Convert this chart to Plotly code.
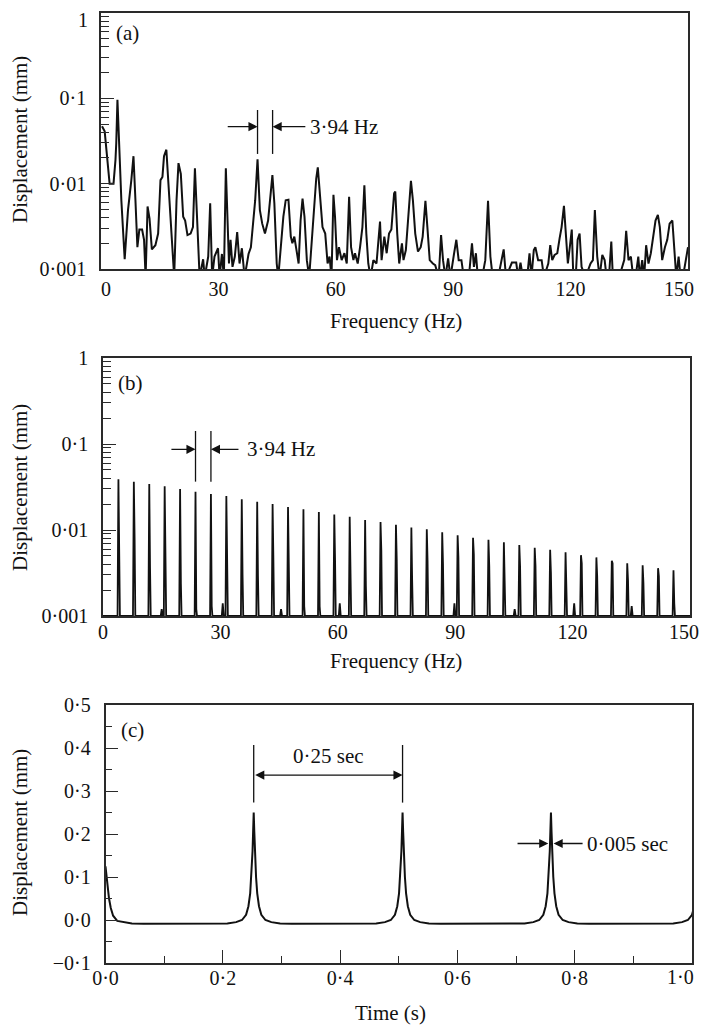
import math
import plotly.graph_objects as go

# ---------------- Panel (a): measured displacement spectrum ----------------
freq_a = [0.26, 0.94, 2.2, 3.2, 3.7, 3.9, 4.2, 4.6, 5.2, 6.05, 6.9, 7.75, 8.3, 8.8, 9.3, 9.8,
          10.5, 11.0, 11.4, 11.9, 12.4, 13.0, 13.9, 14.6, 15.2, 15.7, 16.1, 16.7, 17.1, 18.0,
          18.7, 19.3, 19.8, 20.4, 21.0, 21.5, 22.1, 22.9, 23.5, 24.0, 24.4, 25.2, 26.1, 26.5,
          27.4, 27.9, 28.4, 29.0, 29.9, 30.3, 30.9, 31.4, 31.9, 32.3, 32.7, 33.1, 33.6, 34.2,
          34.8, 35.4, 36.0, 36.7,
          37.7, 38.3, 38.9, 39.4, 40.0, 40.6, 41.2, 41.9, 42.7, 43.3, 43.8, 44.3, 44.9, 45.3,
          45.9, 46.6, 47.2, 47.9, 48.5, 48.9, 49.4, 49.9, 50.5, 51.0, 51.5, 52.0, 52.6, 53.2,
          53.9, 54.5, 55.0, 55.4, 56.0, 56.6, 57.3, 57.9, 58.4, 58.9, 59.4, 59.8, 60.3, 60.8,
          61.5, 62.2, 62.8, 63.4, 63.9, 64.5, 64.9, 65.6, 66.2, 66.8, 67.3, 67.8, 68.3, 68.9,
          69.6, 70.4, 71.3, 71.7, 72.4, 73.0, 73.6, 74.2, 74.9,
          75.2, 75.7, 76.2, 76.9, 77.3, 77.9, 78.6, 79.2, 79.7, 80.3, 81.0, 81.7, 82.2, 82.9,
          83.4, 84.0, 84.8, 85.4, 86.3, 86.9, 87.4, 88.0, 88.7, 89.3, 90.1, 90.8, 91.4, 92.1,
          92.7, 94.0, 94.8, 95.3, 95.8, 96.3, 97.4, 98.2, 98.9, 99.5, 100.1, 101.5, 102.9,
          103.5, 105.0, 106.1, 106.6, 107.2, 107.8, 108.9, 109.5, 110.0, 110.6, 111.0, 111.7,
          112.6, 113.2, 113.8, 114.3, 114.8, 115.3, 115.9, 116.6, 117.2, 117.7, 118.3, 118.7,
          119.3, 119.8, 120.3, 120.7, 121.3, 121.8, 122.3, 122.8, 123.8, 125.1, 125.7, 126.2,
          126.8, 127.4, 128.1, 128.7, 129.2, 129.8, 130.4, 130.8, 132.4, 133.7, 134.2, 134.8,
          135.4, 136.0, 136.6, 137.3, 137.7, 138.3, 138.8, 139.3, 139.9, 140.5, 141.1, 141.7,
          142.3, 142.8, 143.4, 144.1, 144.7, 145.3, 146.0, 146.5, 147.0, 147.6, 148.1, 148.7,
          149.4, 150.0]
disp_a = [0.047, 0.041, 0.010, 0.010, 0.019, 0.030, 0.096, 0.030, 0.0064, 0.0013, 0.0049, 0.011,
          0.021, 0.0064, 0.0018, 0.0029, 0.0029, 0.0022, 0.0008, 0.0054, 0.0039, 0.0017, 0.0019,
          0.0026, 0.011, 0.012, 0.021, 0.025, 0.013, 0.0026, 0.0008, 0.0064, 0.0174, 0.013,
          0.0041, 0.0037, 0.0025, 0.0026, 0.0031, 0.0151, 0.0045, 0.0008, 0.0013, 0.0008, 0.0014,
          0.0059, 0.0008, 0.0014, 0.00175, 0.0008, 0.0015, 0.0008, 0.0151, 0.0037, 0.00116,
          0.0022, 0.00106, 0.0014, 0.0027, 0.00116, 0.00175, 0.0008,
          0.0015, 0.0018, 0.0037, 0.0064, 0.0193, 0.0049, 0.0034, 0.0026, 0.0037, 0.0077, 0.0126,
          0.0059, 0.00116, 0.0008, 0.0018, 0.0041, 0.0064, 0.0065, 0.0024, 0.0020, 0.0024, 0.0018,
          0.00116, 0.0037, 0.0067, 0.0041, 0.00127, 0.0008, 0.0024, 0.0054, 0.0115, 0.0155,
          0.0064, 0.0031, 0.0026, 0.00116, 0.0014, 0.0008, 0.0074, 0.0041, 0.00127, 0.0018,
          0.00127, 0.00153, 0.00116, 0.0070, 0.0018, 0.00127, 0.00153, 0.00116, 0.0018, 0.0031,
          0.0096, 0.0026, 0.00116, 0.0008, 0.00127, 0.00116, 0.0036, 0.00127, 0.0024, 0.00153,
          0.0026, 0.0029, 0.0077,
          0.0081, 0.0026, 0.00116, 0.0020, 0.00127, 0.00167, 0.0049, 0.0108, 0.0064, 0.0026,
          0.0016, 0.0018, 0.0024, 0.0063, 0.0031, 0.00127, 0.00116, 0.00111, 0.0008, 0.0025,
          0.00127, 0.0008, 0.00133, 0.0008, 0.0014, 0.0022, 0.00127, 0.00127, 0.0008, 0.0008,
          0.0020, 0.00106, 0.00153, 0.0008, 0.0008, 0.00127, 0.0063, 0.0014, 0.0008, 0.0008,
          0.0017, 0.0008, 0.00119, 0.00119, 0.0008, 0.00119, 0.0008, 0.0008, 0.00153, 0.0008,
          0.00167, 0.0018, 0.00127,
          0.00127, 0.0008, 0.00095, 0.00116, 0.0019, 0.00127, 0.00146, 0.00153, 0.0023, 0.0031,
          0.0055, 0.0031, 0.00116, 0.0018, 0.0029, 0.0008, 0.0008, 0.0022, 0.0026, 0.00106,
          0.0008, 0.00116, 0.00127, 0.0049, 0.0014, 0.0008, 0.00146, 0.00127, 0.0008, 0.0008,
          0.0021, 0.0008, 0.0008, 0.00127, 0.0028, 0.00127, 0.0014, 0.0008, 0.0008, 0.0014,
          0.0008, 0.00127, 0.0008, 0.0019, 0.00116, 0.00153, 0.0024, 0.0037, 0.0043, 0.0031,
          0.00127, 0.0018, 0.0022, 0.0034, 0.0037, 0.0018, 0.0008, 0.0014, 0.0008, 0.0008,
          0.00127, 0.0018]

# ---------------- Panel (b): simulated harmonic spectrum ----------------
fund_b = 3.94
harm_b = list(range(1, 38))
peak_b = [0.0388, 0.0365, 0.0343, 0.0322, 0.0300, 0.0279, 0.0262, 0.0248, 0.0227, 0.0213,
          0.0201, 0.0185, 0.0174, 0.0162, 0.0151, 0.0143, 0.0131, 0.0124, 0.0115, 0.0107,
          0.0102, 0.0094, 0.0087, 0.0081, 0.0077, 0.0072, 0.0067, 0.0062, 0.0059, 0.0055,
          0.0051, 0.0048, 0.0044, 0.0041, 0.0039, 0.0036, 0.0034]
side_b = [0.0064, 0.0077, 0.0036, 0.0024, 0.0024, 0.0012, 0.0013, 0.0047, 0.0030, 0.0029,
          0.0045, 0.0029, 0.0013, 0.0013, 0.0045, 0.0013, 0.0022, 0.0058, 0.0045, 0.0026,
          0.0043, 0.0041, 0.0048, 0.0052, 0.0038, 0.0021, 0.0038, 0.0038, 0.0032, 0.0014,
          0.0041, 0.0029, 0.0041, 0.0026, 0.0024, 0.0029, 0.0014]
bump_f_b = [15.0, 30.6, 45.5, 60.5, 89.8, 105.2, 120.4, 135.1]
bump_v_b = [0.0012, 0.0014, 0.0012, 0.0014, 0.0014, 0.0012, 0.0014, 0.0013]
floor_b = 0.001

# ---------------- Panel (c): time-domain displacement ----------------
pulse_centres_c = [0.2527, 0.5065, 0.7595, 1.013]
pulse_dt_c = [-0.065, -0.045, -0.03, -0.02, -0.013, -0.009, -0.006, -0.004, -0.002, -0.001, 0.0,
              0.001, 0.002, 0.004, 0.006, 0.009, 0.013, 0.02, 0.03, 0.045, 0.065]
pulse_v_c = [-0.009, -0.008, -0.005, 0.0, 0.012, 0.032, 0.062, 0.10, 0.16, 0.205, 0.25,
             0.205, 0.16, 0.10, 0.062, 0.032, 0.012, 0.0, -0.005, -0.008, -0.009]
start_t_c = [0.0, 0.002, 0.004, 0.006, 0.009, 0.013, 0.02, 0.03, 0.045, 0.065]
start_v_c = [0.125, 0.10, 0.072, 0.05, 0.028, 0.010, -0.002, -0.005, -0.008, -0.009]

# ---------------- tick labels ----------------
NB = "\u00a0"
log_tickvals = [0.001, 0.01, 0.1, 1]
log_ticktext = ["0·001", "0·01", "0·1", "1"]
log_ticktext_a = ["0·001", "0·01", "0·1", ""]      # top "1" set just inside the page below
log_minor = [m * d for d in (0.001, 0.01, 0.1) for m in range(2, 10)]
freq_tickvals = [0, 30, 60, 90, 120, 150]
freq_ticktext_a = [NB * 2 + "0", "30", "60", "90", "120", ""]   # "150" placed inward below
freq_ticktext_b = ["0", "30", "60", "90", "120", ""]
time_tickvals = [0.0, 0.2, 0.4, 0.6, 0.8, 1.0]
time_ticktext = ["0·0", "0·2", "0·4", "0·6", "0·8", ""]          # "1·0" placed inward below
time_minor = [0.1, 0.3, 0.5, 0.7, 0.9]
disp_tickvals = [-0.1, 0.0, 0.1, 0.2, 0.3, 0.4, 0.5]
disp_ticktext = ["−0·1", "0·0", "0·1", "0·2", "0·3", "0·4", "0·5"]
disp_minor = [-0.05, 0.05, 0.15, 0.25, 0.35, 0.45]

# ---------------- build series ----------------
pts_b = []
for n, pk, sd in zip(harm_b, peak_b, side_b):
    f = n * fund_b
    pts_b += [(f - 0.22, floor_b), (f, pk), (f + 0.2, sd), (f + 0.38, floor_b)]
for bf, bv in zip(bump_f_b, bump_v_b):
    pts_b += [(bf - 0.25, floor_b), (bf, bv), (bf + 0.25, floor_b)]
pts_b = [(0.0, floor_b)] + sorted(pts_b) + [(150.0, floor_b)]
freq_b = [p[0] for p in pts_b]
disp_b = [p[1] for p in pts_b]

time_c = list(start_t_c)
disp_c = list(start_v_c)
for c in pulse_centres_c:
    time_c += [c + d for d in pulse_dt_c]
    disp_c += list(pulse_v_c)

FONT = "Liberation Serif"
INK = "#111111"
FRAME = "#2a2a2a"

# page geometry: the html body has an 8 px margin, so the figure is sized to fit inside it
OFF = 8
W, H = 700, 1018


def px2x(p):
    return (p - OFF) / W


def py2y(p):
    return 1 - (p - OFF) / H


fig = go.Figure()
fig.add_trace(go.Scatter(x=freq_a, y=disp_a, mode="lines", line=dict(color=INK, width=2.0),
                         xaxis="x", yaxis="y", hoverinfo="skip"))
fig.add_trace(go.Scatter(x=freq_b, y=disp_b, mode="lines", line=dict(color=INK, width=1.8),
                         xaxis="x2", yaxis="y2", hoverinfo="skip"))
fig.add_trace(go.Scatter(x=time_c, y=disp_c, mode="lines", line=dict(color=INK, width=2.0),
                         xaxis="x3", yaxis="y3", hoverinfo="skip"))

# ---------------- dimension markers ----------------
mark_a = [40.0, 43.85]
span_a = [0.0223, 0.073]
arrow_y_a = 0.0466
mark_b = [6 * fund_b, 7 * fund_b]
span_b = [0.0365, 0.1417]
arrow_y_b = 0.0867
mark_c = pulse_centres_c[:2]
span_c = [0.273, 0.407]
arrow_y_c = 0.337


def vline(xv, span, xa, ya):
    fig.add_trace(go.Scatter(x=[xv, xv], y=span, mode="lines", line=dict(color=INK, width=1.3),
                             xaxis=xa, yaxis=ya, hoverinfo="skip"))


for m in mark_a:
    vline(m, span_a, "x", "y")
for m in mark_b:
    vline(m, span_b, "x2", "y2")
for m in mark_c:
    vline(m, span_c, "x3", "y3")

ann = []
arrow_style = dict(showarrow=True, arrowhead=2, arrowsize=1.3, arrowwidth=1.4, arrowcolor=INK,
                   standoff=0, text="")


def arrow(x, y, ax, ay, xr, yr, log=False, side="end"):
    if log:
        y = math.log10(y)
        ay = math.log10(ay)
    ann.append(dict(x=x, y=y, ax=ax, ay=ay, xref=xr, yref=yr, axref=xr, ayref=yr,
                    arrowside=side, **arrow_style))


def label(x, y, s, xr, yr, xanchor="left", log=False):
    if log:
        y = math.log10(y)
    ann.append(dict(x=x, y=y, xref=xr, yref=yr, text=s, showarrow=False, xanchor=xanchor,
                    yanchor="middle", font=dict(family=FONT, size=21, color=INK)))


arrow(mark_a[0], arrow_y_a, 32.0, arrow_y_a, "x", "y", log=True)
arrow(mark_a[1], arrow_y_a, 52.6, arrow_y_a, "x", "y", log=True)
label(53.0, arrow_y_a, "3·94 Hz", "x", "y", log=True)

arrow(mark_b[0], arrow_y_b, 17.1, arrow_y_b, "x2", "y2", log=True)
arrow(mark_b[1], arrow_y_b, 35.0, arrow_y_b, "x2", "y2", log=True)
label(36.4, arrow_y_b, "3·94 Hz", "x2", "y2", log=True)

arrow(mark_c[1], arrow_y_c, mark_c[0], arrow_y_c, "x3", "y3", side="end+start")
label((mark_c[0] + mark_c[1]) / 2, 0.381, "0·25 sec", "x3", "y3", xanchor="center")

pk3 = pulse_centres_c[2]
arrow(pk3 - 0.0045, 0.178, 0.70, 0.178, "x3", "y3")
arrow(pk3 + 0.0045, 0.178, 0.816, 0.178, "x3", "y3")
label(0.817, 0.176, "0·005 sec", "x3", "y3")


def paper_text(px, py, s, xanchor="center", angle=0, size=21):
    ann.append(dict(x=px2x(px), y=py2y(py), xref="paper", yref="paper", text=s,
                    showarrow=False, xanchor=xanchor, yanchor="middle", textangle=angle,
                    font=dict(family=FONT, size=size, color=INK)))


paper_text(114, 33, "(a)", xanchor="left")
paper_text(116, 383, "(b)", xanchor="left")
paper_text(119, 729.5, "(c)", xanchor="left")
for cy in (139.5, 487.5, 832.5):
    paper_text(19.5, cy, "Displacement (mm)", angle=-90)
paper_text(396, 321, "Frequency (Hz)")
paper_text(396, 661, "Frequency (Hz)")
paper_text(390, 1013, "Time (s)")
# end tick labels that the original sets slightly inward of the frame corners
paper_text(90, 20, log_ticktext[-1], xanchor="right", size=20)
paper_text(679, 289, str(freq_tickvals[-1]), size=20)
paper_text(684, 632, str(freq_tickvals[-1]), size=20)
paper_text(680, 977, "1·0", size=20)

tickfont = dict(family=FONT, size=20, color=INK)
common = dict(showline=True, mirror=True, linecolor=FRAME, linewidth=1.5, showgrid=False,
              zeroline=False, tickfont=tickfont, tickcolor=FRAME, tickwidth=1.2,
              automargin=False, ticklabeloverflow="allow")

fig.update_layout(
    width=W, height=H, autosize=False,
    margin=dict(l=0, r=0, t=0, b=0, pad=0, autoexpand=False),
    paper_bgcolor="white", plot_bgcolor="white", showlegend=False, hovermode=False,
    xaxis=dict(domain=[px2x(101), px2x(688)], anchor="y", range=[0, 150], tickmode="array",
               tickvals=freq_tickvals, ticktext=freq_ticktext_a, ticks="",
               ticklabelstandoff=1, **common),
    yaxis=dict(domain=[py2y(269), py2y(13)], anchor="x", type="log", range=[-3, 0],
               tickmode="array", tickvals=log_tickvals, ticktext=log_ticktext_a,
               ticks="inside", ticklen=13, ticklabelstandoff=9,
               minor=dict(tickmode="array", tickvals=log_minor, ticks="inside", ticklen=8,
                          tickcolor=FRAME, tickwidth=1.1), **common),
    xaxis2=dict(domain=[px2x(103), px2x(690)], anchor="y2", range=[0, 150], tickmode="array",
                tickvals=freq_tickvals, ticktext=freq_ticktext_b, ticks="",
                ticklabelstandoff=-3, **common),
    yaxis2=dict(domain=[py2y(616), py2y(358)], anchor="x2", type="log", range=[-3, 0],
                tickmode="array", tickvals=log_tickvals, ticktext=log_ticktext, ticks="inside",
                ticklen=13, ticklabelstandoff=9,
                minor=dict(tickmode="array", tickvals=log_minor, ticks="inside", ticklen=8,
                           tickcolor=FRAME, tickwidth=1.1), **common),
    xaxis3=dict(domain=[px2x(105.5), px2x(692)], anchor="y3", range=[0, 1.0], tickmode="array",
                tickvals=time_tickvals, ticktext=time_ticktext, ticks="inside", ticklen=13,
                ticklabelstandoff=-4,
                minor=dict(tickmode="array", tickvals=time_minor, ticks="inside", ticklen=7,
                           tickcolor=FRAME, tickwidth=1.1), **common),
    yaxis3=dict(domain=[py2y(963), py2y(705)], anchor="x3", range=[-0.1, 0.5],
                tickmode="array", tickvals=disp_tickvals, ticktext=disp_ticktext,
                ticks="inside", ticklen=13, ticklabelstandoff=9,
                minor=dict(tickmode="array", tickvals=disp_minor, ticks="inside", ticklen=7,
                           tickcolor=FRAME, tickwidth=1.1), **common),
    annotations=ann,
)

fig.write_html("out.html")
